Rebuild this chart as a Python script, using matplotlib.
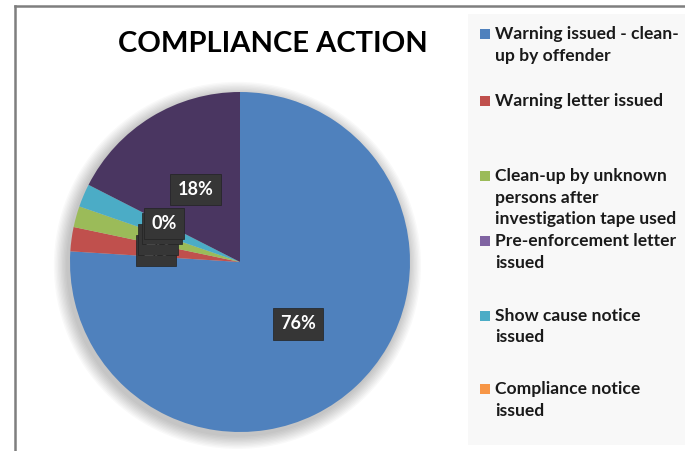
import numpy as np
import matplotlib
matplotlib.use('Agg')
from matplotlib import pyplot as plt
from matplotlib.patches import Rectangle, Circle
from matplotlib.lines import Line2D

# slice order as drawn clockwise from 12 o'clock
slice_names = ['Warning issued - clean-up by offender',
               'Warning letter issued',
               'Clean-up by unknown persons after investigation tape used',
               'Show cause notice issued',
               'Compliance notice issued',
               'Pre-enforcement letter issued']
slice_values = [76.0, 2.3, 2.0, 2.2, 0.0, 17.5]
slice_colors = ['#4f81bd', '#c0504d', '#9bbb59', '#4bacc6', '#f79646', '#4a3661']

# legend order and wrapping as in the original
legend_labels = [['Warning issued - clean-', 'up by offender'],
                 ['Warning letter issued'],
                 ['Clean-up by unknown', 'persons after', 'investigation tape used'],
                 ['Pre-enforcement letter', 'issued'],
                 ['Show cause notice', 'issued'],
                 ['Compliance notice', 'issued']]
legend_colors = ['#4f81bd', '#c0504d', '#9bbb59', '#8064a2', '#4bacc6', '#f79646']
legend_y = [34, 101, 176, 241, 316, 389]   # pixel row of first line

W, H = 685, 451
fig = plt.figure(figsize=(W / 100, H / 100), dpi=100)
fig.patch.set_facecolor('white')

def fx(px):
    return px / W

def fy(py):
    return 1 - py / H

# frame lines (top and left)
fig.add_artist(Line2D([fx(15), 1], [fy(6), fy(6)], color='#7f7f7f', lw=1.8,
                      transform=fig.transFigure))
fig.add_artist(Line2D([fx(15), fx(15)], [fy(6), 0], color='#7f7f7f', lw=1.8,
                      transform=fig.transFigure))

# legend panel
fig.add_artist(Rectangle((fx(468), fy(445)), fx(685 - 468), (445 - 14) / H,
                         facecolor='#f8f8f8', edgecolor='none',
                         transform=fig.transFigure, zorder=0))

fig.text(fx(273), fy(44), 'COMPLIANCE ACTION', ha='center', va='center',
         fontsize=21, fontweight='bold', family='Lato', color='black')

# pie axes: centre (240, 262) px, radius 170 px, limits +-1.1
half = 170 * 1.1
ax = fig.add_axes([fx(240 - half), fy(262 + half), 2 * half / W, 2 * half / H])
ax.patch.set_visible(False)

# soft shadow behind the pie
for i in range(10):
    r = 1.0 + 0.008 * (i + 1)
    ax.add_patch(Circle((-0.015, -0.02), r, facecolor='#000000',
                        alpha=0.025, edgecolor='none', zorder=0))

wedges, texts, autotexts = ax.pie(
    slice_values, colors=slice_colors, startangle=90, counterclock=False,
    autopct='%.0f%%', pctdistance=0.5, radius=1.0,
    wedgeprops=dict(linewidth=0, zorder=1),
    textprops=dict(color='white', fontsize=13, fontweight='bold', family='Lato'))
for t in autotexts:
    t.set_bbox(dict(boxstyle='square,pad=0.4', facecolor='#363636',
                    edgecolor='#222222', linewidth=0.5))
    t.set_zorder(5)

ax.set_xlim(-1.1, 1.1)
ax.set_ylim(-1.1, 1.1)
ax.set_aspect('equal')
ax.axis('off')

# legend entries
line_h = 21.5
for lines, col, y0 in zip(legend_labels, legend_colors, legend_y):
    fig.add_artist(Rectangle((fx(480), fy(y0 + 5)), fx(10), 10 / H,
                             facecolor=col, edgecolor='none',
                             transform=fig.transFigure))
    for i, line in enumerate(lines):
        fig.text(fx(495), fy(y0 + i * line_h), line, ha='left', va='center',
                 fontsize=12.6, fontweight='bold', family='Lato', color='#1a1a1a')

fig.savefig('out.png', dpi=100)
